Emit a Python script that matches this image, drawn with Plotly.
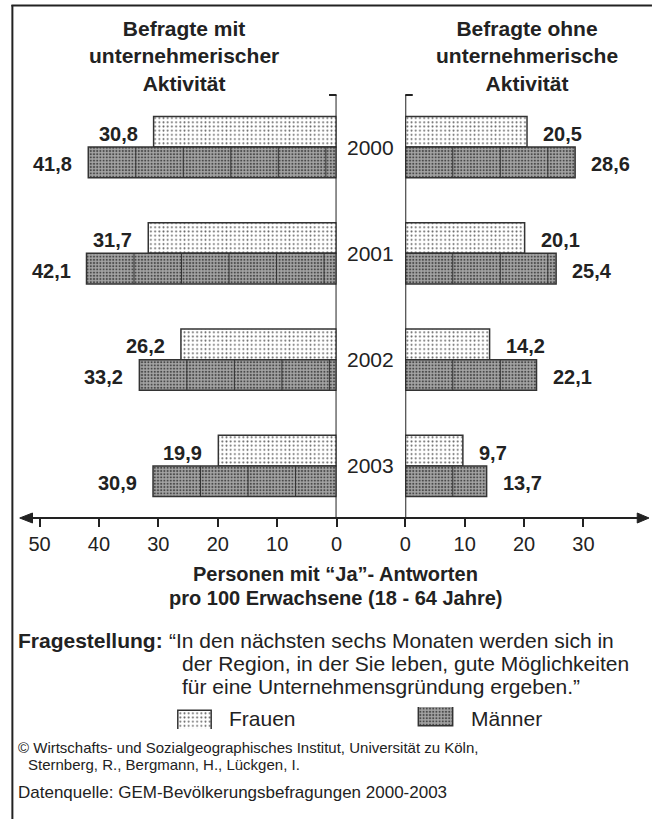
import plotly.graph_objects as go

# ---- data -------------------------------------------------------------
years = ["2000", "2001", "2002", "2003"]
mit_frauen = [30.8, 31.7, 26.2, 19.9]     # Befragte mit unternehmerischer Aktivität
mit_maenner = [41.8, 42.1, 33.2, 30.9]
ohne_frauen = [20.5, 20.1, 14.2, 9.7]     # Befragte ohne unternehmerische Aktivität
ohne_maenner = [28.6, 25.4, 22.1, 13.7]
left_ticks = [0, 10, 20, 30, 40, 50]
right_ticks = [0, 10, 20, 30]

# ---- canvas geometry (pixels) -----------------------------------------
W, H = 656, 819
PLOT_TOP, PLOT_BOTTOM = 95, 518
LEFT_ZERO, RIGHT_ZERO = 336.7, 406.7
PX_PER_UNIT = 6.05
BARGAP = 0.425
BAR_W = (1 - BARGAP) / 2
DIVIDER_STEP = 8          # spacing of the vertical strokes inside the Männer bars

FONT = "Liberation Sans, Arial, Helvetica, sans-serif"
INK = "#222222"
OUTLINE = "#333333"


def px(x):
    return x / W


def py(y):
    return 1 - y / H


frauen_pattern = dict(shape=".", size=4.2, solidity=0.16, fgcolor="#6a6a6a",
                      bgcolor="white", fillmode="replace")
maenner_pattern = dict(shape=".", size=3.2, solidity=0.35, fgcolor="#4a4a4a",
                       bgcolor="#a4a4a4", fillmode="replace")

ypos = list(range(len(years)))

fig = go.Figure()

for xs, axis, name in [(mit_frauen, "x", "Frauen"), (ohne_frauen, "x2", "Frauen")]:
    fig.add_trace(go.Bar(
        y=ypos, x=xs, orientation="h", xaxis=axis, yaxis="y", name=name,
        offsetgroup="f", marker=dict(color="white", pattern=frauen_pattern,
                                     line=dict(color=OUTLINE, width=1.5)),
        showlegend=False, hoverinfo="skip"))
for xs, axis, name in [(mit_maenner, "x", "Männer"), (ohne_maenner, "x2", "Männer")]:
    fig.add_trace(go.Bar(
        y=ypos, x=xs, orientation="h", xaxis=axis, yaxis="y", name=name,
        offsetgroup="m", marker=dict(color="#a4a4a4", pattern=maenner_pattern,
                                     line=dict(color=OUTLINE, width=1.5)),
        showlegend=False, hoverinfo="skip"))

# legend swatches on an auxiliary pixel axis
fig.add_trace(go.Bar(y=[0.5], x=[34], base=[175], width=[1], orientation="h",
                     xaxis="x3", yaxis="y3", showlegend=False, hoverinfo="skip",
                     marker=dict(color="white", pattern=frauen_pattern,
                                 line=dict(color=OUTLINE, width=1.5))))
fig.add_trace(go.Bar(y=[0.5], x=[35], base=[420], width=[1], orientation="h",
                     xaxis="x3", yaxis="y3", showlegend=False, hoverinfo="skip",
                     marker=dict(color="#a4a4a4", pattern=maenner_pattern,
                                 line=dict(color=OUTLINE, width=1.5))))

shapes = []
annotations = []


def fmt(v):
    return f"{v:.1f}".replace(".", ",")


# vertical strokes inside the Männer bars, repeating from each bar's left edge
for i, v in enumerate(mit_maenner):
    d = v - DIVIDER_STEP
    while d > 0.3:
        shapes.append(dict(type="line", xref="x", yref="y", x0=d, x1=d,
                           y0=i, y1=i + BAR_W, line=dict(color=OUTLINE, width=1)))
        d -= DIVIDER_STEP
for i, v in enumerate(ohne_maenner):
    d = DIVIDER_STEP
    while d < v - 0.3:
        shapes.append(dict(type="line", xref="x2", yref="y", x0=d, x1=d,
                           y0=i, y1=i + BAR_W, line=dict(color=OUTLINE, width=1)))
        d += DIVIDER_STEP

# value labels
for i in ypos:
    for v, axis, off, anchor, shift in [
        (mit_frauen[i], "x", -BAR_W / 2, "right", -14),
        (mit_maenner[i], "x", BAR_W / 2, "right", -14),
        (ohne_frauen[i], "x2", -BAR_W / 2, "left", 14),
        (ohne_maenner[i], "x2", BAR_W / 2, "left", 14),
    ]:
        annotations.append(dict(
            xref=axis, yref="y", x=v, y=i + off, text=fmt(v), showarrow=False,
            xanchor=anchor, yanchor="middle", xshift=shift, yshift=-2,
            font=dict(family=FONT, size=20, color=INK, weight="bold")))
    annotations.append(dict(
        xref="paper", yref="y", x=px((LEFT_ZERO + RIGHT_ZERO) / 2), y=i,
        text=years[i], showarrow=False, xanchor="center", yanchor="middle",
        font=dict(family=FONT, size=21, color=INK)))

# zero lines with a small cap on top
for axis in ["x", "x2"]:
    shapes.append(dict(type="line", xref=axis, yref="paper", x0=0, x1=0,
                       y0=py(PLOT_BOTTOM), y1=py(PLOT_TOP),
                       line=dict(color=INK, width=2)))
    shapes.append(dict(type="line", xref=axis, yref="paper", xsizemode="pixel",
                       xanchor=0, x0=-7.5, x1=7.5, y0=py(PLOT_TOP), y1=py(PLOT_TOP),
                       line=dict(color=INK, width=2)))

# horizontal axis line with arrowheads at both ends
ya = py(PLOT_BOTTOM)
shapes.append(dict(type="line", xref="paper", yref="paper", x0=px(20), x1=px(650),
                   y0=ya, y1=ya, line=dict(color=INK, width=2)))
hh = 5 / H
shapes.append(dict(type="path", xref="paper", yref="paper",
                   path=f"M{px(14)},{ya} L{px(27)},{ya + hh} L{px(27)},{ya - hh} Z",
                   fillcolor=INK, line=dict(color=INK, width=1)))
shapes.append(dict(type="path", xref="paper", yref="paper",
                   path=f"M{px(655)},{ya} L{px(643)},{ya + hh} L{px(643)},{ya - hh} Z",
                   fillcolor=INK, line=dict(color=INK, width=1)))

# frame (left and top)
shapes.append(dict(type="line", xref="paper", yref="paper", x0=px(6.5), x1=px(6.5),
                   y0=py(5), y1=py(H + 2), line=dict(color=INK, width=2)))
shapes.append(dict(type="line", xref="paper", yref="paper", x0=px(5.5), x1=px(W + 2),
                   y0=py(5.5), y1=py(5.5), line=dict(color=INK, width=2)))


def text(x, y, s, size, bold=False, anchor="left"):
    annotations.append(dict(
        xref="paper", yref="paper", x=px(x), y=py(y), text=s, showarrow=False,
        xanchor=anchor, yanchor="middle", align="center",
        font=dict(family=FONT, size=size, color=INK,
                  weight="bold" if bold else "normal")))


# panel titles
text(181, 56, "Befragte mit<br>unternehmerischer<br>Aktivität", 21, True, "center")
text(531, 56, "Befragte ohne<br>unternehmerische<br>Aktivität", 21, True, "center")

# axis title
text(336, 574, "Personen mit “Ja”- Antworten", 20, True, "center")
text(336, 598, "pro 100 Erwachsene (18 - 64 Jahre)", 20, True, "center")

# question
text(10, 640, "Fragestellung:", 21, True)
text(164, 640, "“In den nächsten sechs Monaten werden sich in", 21)
text(177, 663, "der Region, in der Sie leben, gute Möglichkeiten", 21)
text(177, 686, "für eine Unternehmensgründung ergeben.”", 21)

# legend labels
text(225, 718, "Frauen", 21)
text(472, 718, "Männer", 21)

# credits
text(10, 747, "© Wirtschafts- und Sozialgeographisches Institut, Universität zu Köln,", 15)
text(20, 764, "Sternberg, R., Bergmann, H., Lückgen, I.", 15)
text(10, 792, "Datenquelle: GEM-Bevölkerungsbefragungen 2000-2003", 17)

tickfont = dict(family=FONT, size=20, color=INK)
fig.update_layout(
    width=W, height=H, margin=dict(l=0, r=0, t=0, b=0),
    paper_bgcolor="white", plot_bgcolor="rgba(0,0,0,0)",
    barmode="group", bargap=BARGAP, bargroupgap=0,
    xaxis=dict(domain=[0, px(LEFT_ZERO)], range=[LEFT_ZERO / PX_PER_UNIT, 0],
               anchor="y", tickvals=left_ticks, ticks="outside", ticklen=8,
               tickwidth=1.5, tickcolor=INK, tickfont=tickfont,
               showgrid=False, zeroline=False, showline=False),
    xaxis2=dict(domain=[px(RIGHT_ZERO), 1],
                range=[0, (W - RIGHT_ZERO) / PX_PER_UNIT],
                anchor="y", tickvals=right_ticks, ticks="outside", ticklen=8,
                tickwidth=1.5, tickcolor=INK, tickfont=tickfont,
                showgrid=False, zeroline=False, showline=False),
    yaxis=dict(domain=[py(PLOT_BOTTOM), py(PLOT_TOP)], range=[3.49, -0.49],
               visible=False),
    xaxis3=dict(domain=[0, 1], range=[0, W], visible=False, anchor="y3"),
    yaxis3=dict(domain=[py(729), py(707)], range=[0, 1], visible=False,
                anchor="x3"),
    shapes=shapes, annotations=annotations,
)

fig.write_html("out.html")
